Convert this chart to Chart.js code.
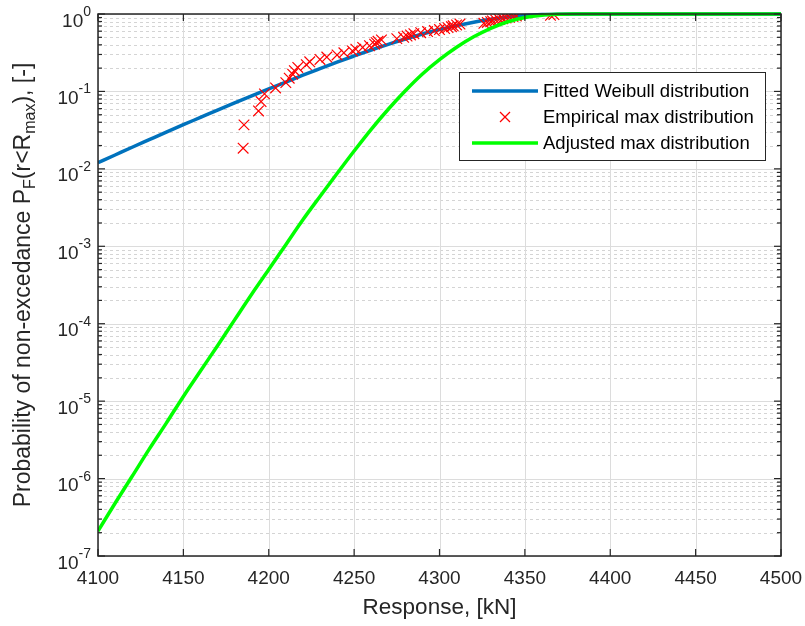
<!DOCTYPE html>
<html>
<head>
<meta charset="utf-8">
<script src="https://cdn.jsdelivr.net/npm/chart.js@4.4.1/dist/chart.umd.min.js"></script>
<style>
html, body { margin: 0; padding: 0; background: #fff; }
</style>
</head>
<body>
<canvas id="chart" width="805" height="626"></canvas>
<script>
// --- data ---
const fitX = [4100, 4110, 4120, 4130, 4140, 4150, 4160, 4170, 4180, 4190, 4200, 4210, 4220, 4230, 4240,
              4250, 4260, 4270, 4280, 4290, 4300, 4310, 4320, 4330, 4340, 4350, 4360, 4370, 4380, 4390,
              4400, 4450, 4500];
const fitP = [0.0120, 0.0151, 0.0190, 0.0238, 0.0298, 0.0372, 0.0462, 0.0574, 0.0711, 0.0879, 0.108, 0.132, 0.162, 0.197, 0.239,
              0.287, 0.343, 0.406, 0.475, 0.551, 0.630, 0.708, 0.783, 0.853, 0.912, 0.955, 0.982, 0.995, 1, 1,
              1, 1, 1];

const adjX = fitX;
const adjP = [2.1e-7, 4.8e-7, 1.07e-6, 2.4e-6, 5.2e-6, 1.15e-5, 2.45e-5, 5.2e-5, 1.12e-4, 2.4e-4, 5.0e-4, 1.05e-3, 2.2e-3, 4.4e-3, 8.7e-3,
              0.0170, 0.0324, 0.0589, 0.102, 0.168, 0.257, 0.372, 0.507, 0.653, 0.794, 0.902, 0.966, 0.991, 0.998, 0.9995,
              1, 1, 1];

const empX = [4185, 4185.5, 4194, 4195.5, 4197.5, 4204, 4210, 4212, 4214, 4215, 4217, 4222, 4224, 4230, 4234,
              4240, 4244, 4249, 4251, 4255, 4259, 4262, 4263, 4264, 4266, 4275, 4279, 4281, 4283, 4285,
              4289, 4293, 4297, 4300, 4303, 4305, 4307, 4308, 4310, 4312, 4326, 4328, 4330, 4331, 4333,
              4335, 4337, 4339, 4341, 4343, 4345, 4365, 4367];
const empP = [0.0185, 0.037, 0.056, 0.074, 0.093, 0.111, 0.130, 0.148, 0.167, 0.185, 0.204, 0.222, 0.241, 0.259, 0.278,
              0.296, 0.315, 0.333, 0.352, 0.370, 0.389, 0.407, 0.426, 0.444, 0.463, 0.481, 0.500, 0.519, 0.537, 0.556,
              0.574, 0.593, 0.611, 0.630, 0.648, 0.667, 0.685, 0.704, 0.722, 0.741, 0.759, 0.778, 0.796, 0.815, 0.833,
              0.852, 0.870, 0.889, 0.907, 0.926, 0.944, 0.963, 0.981];

const xTicks = [4100, 4150, 4200, 4250, 4300, 4350, 4400, 4450, 4500];
const yExps = [0, -1, -2, -3, -4, -5, -6, -7];
const legendLabels = ['Fitted Weibull distribution', 'Empirical max distribution', 'Adjusted max distribution'];

const FONT = "'Liberation Sans', Arial, sans-serif";
const AXIS = '#262626';
const BLUE = '#0072BD';
const RED = '#FF0000';
const GREEN = '#00FF00';

function toPoints(xs, ys) {
    return xs.map((x, i) => ({ x: x, y: ys[i] }));
}

function strokeLine(ctx, x1, y1, x2, y2) {
    ctx.beginPath();
    ctx.moveTo(x1, y1);
    ctx.lineTo(x2, y2);
    ctx.stroke();
}

function drawCross(ctx, cx, cy, h) {
    strokeLine(ctx, cx - h, cy - h, cx + h, cy + h);
    strokeLine(ctx, cx - h, cy + h, cx + h, cy - h);
}

// grid, box, inward ticks, 10^n labels, legend and y title the MATLAB way
const matlabAxes = {
    id: 'matlabAxes',
    beforeDatasetsDraw(chart) {
        const { ctx, chartArea: a, scales: { x, y } } = chart;
        ctx.save();
        ctx.lineWidth = 1;
        // minor log grid, dotted
        ctx.strokeStyle = '#d4d4d4';
        ctx.setLineDash([3, 3]);
        for (let e = -7; e < 0; e++) {
            for (let m = 2; m <= 9; m++) {
                const py = Math.round(y.getPixelForValue(m * Math.pow(10, e))) + 0.5;
                strokeLine(ctx, a.left, py, a.right, py);
            }
        }
        ctx.setLineDash([]);
        ctx.strokeStyle = '#dcdcdc';
        xTicks.forEach(v => {
            const px = Math.round(x.getPixelForValue(v)) + 0.5;
            strokeLine(ctx, px, a.top, px, a.bottom);
        });
        yExps.forEach(e => {
            const py = Math.round(y.getPixelForValue(Math.pow(10, e))) + 0.5;
            strokeLine(ctx, a.left, py, a.right, py);
        });
        ctx.restore();
    },
    afterDatasetsDraw(chart) {
        const { ctx, chartArea: a, scales: { x, y } } = chart;
        ctx.save();
        ctx.strokeStyle = AXIS;
        ctx.lineWidth = 1.5;
        ctx.strokeRect(a.left, a.top, a.right - a.left, a.bottom - a.top);

        // ticks pointing inwards
        ctx.lineWidth = 1.2;
        xTicks.forEach(v => {
            const px = x.getPixelForValue(v);
            strokeLine(ctx, px, a.bottom, px, a.bottom - 7);
            strokeLine(ctx, px, a.top, px, a.top + 7);
        });
        for (let e = -7; e <= 0; e++) {
            for (let m = 1; m <= 9; m++) {
                if (e === 0 && m > 1) break;
                const py = y.getPixelForValue(m * Math.pow(10, e));
                const len = m === 1 ? 7 : 4;
                strokeLine(ctx, a.left, py, a.left + len, py);
                strokeLine(ctx, a.right, py, a.right - len, py);
            }
        }

        // y tick labels 10^n
        ctx.fillStyle = AXIS;
        ctx.textBaseline = 'alphabetic';
        ctx.textAlign = 'left';
        yExps.forEach(e => {
            const py = y.getPixelForValue(Math.pow(10, e));
            ctx.font = '14px ' + FONT;
            const sup = String(e);
            const ws = ctx.measureText(sup).width;
            ctx.font = '19px ' + FONT;
            const wb = ctx.measureText('10').width;
            const right = a.left - 7;
            ctx.fillText('10', right - ws - wb, py + 12.5);
            ctx.font = '14px ' + FONT;
            ctx.fillText(sup, right - ws, py + 2);
        });

        // y axis title with subscripts
        const parts = [
            ['Probability of non-excedance P', false],
            ['F', true],
            ['(r<R', false],
            ['max', true],
            ['), [-]', false]
        ];
        ctx.save();
        ctx.translate(30, (a.top + a.bottom) / 2);
        ctx.rotate(-Math.PI / 2);
        let total = 0;
        parts.forEach(p => {
            ctx.font = (p[1] ? '16px ' : '23px ') + FONT;
            total += ctx.measureText(p[0]).width;
        });
        let cx = -total / 2;
        parts.forEach(p => {
            ctx.font = (p[1] ? '16px ' : '23px ') + FONT;
            ctx.fillText(p[0], cx, p[1] ? 5 : 0);
            cx += ctx.measureText(p[0]).width;
        });
        ctx.restore();

        // legend box
        const lg = { left: 459.5, top: 72.5, right: 765.5, bottom: 160.5 };
        ctx.fillStyle = '#fff';
        ctx.fillRect(lg.left, lg.top, lg.right - lg.left, lg.bottom - lg.top);
        ctx.strokeStyle = AXIS;
        ctx.lineWidth = 1;
        ctx.strokeRect(lg.left, lg.top, lg.right - lg.left, lg.bottom - lg.top);
        const rowY = [91, 117, 143];
        ctx.lineWidth = 3.5;
        ctx.strokeStyle = BLUE;
        strokeLine(ctx, 472, rowY[0], 538, rowY[0]);
        ctx.strokeStyle = GREEN;
        strokeLine(ctx, 472, rowY[2], 538, rowY[2]);
        ctx.strokeStyle = RED;
        ctx.lineWidth = 1.2;
        drawCross(ctx, 505, rowY[1], 5);
        ctx.fillStyle = '#000';
        ctx.font = '18.5px ' + FONT;
        ctx.textBaseline = 'middle';
        legendLabels.forEach((t, i) => ctx.fillText(t, 543, rowY[i] + 1));
        ctx.restore();
    }
};

const chart = new Chart(document.getElementById('chart'), {
    type: 'line',
    data: {
        datasets: [
            {
                label: legendLabels[2],
                data: toPoints(adjX, adjP),
                borderColor: GREEN,
                borderWidth: 3.5,
                pointRadius: 0,
                fill: false,
                cubicInterpolationMode: 'monotone',
                clip: { left: 0, top: 3, right: 0, bottom: 0 },
                order: 1
            },
            {
                label: legendLabels[1],
                data: toPoints(empX, empP),
                showLine: false,
                pointStyle: 'crossRot',
                pointRadius: 7.5,
                borderColor: RED,
                backgroundColor: RED,
                pointBorderWidth: 1.2,
                order: 2
            },
            {
                label: legendLabels[0],
                data: toPoints(fitX, fitP),
                borderColor: BLUE,
                borderWidth: 3.5,
                pointRadius: 0,
                fill: false,
                cubicInterpolationMode: 'monotone',
                clip: { left: 0, top: 3, right: 0, bottom: 0 },
                order: 3
            }
        ]
    },
    options: {
        responsive: false,
        animation: false,
        layout: { padding: { left: 0, right: 24, top: 14, bottom: 0 } },
        plugins: {
            legend: { display: false },
            tooltip: { enabled: false }
        },
        scales: {
            x: {
                type: 'linear',
                min: 4100,
                max: 4500,
                grid: { display: false, drawTicks: false },
                border: { display: false },
                ticks: {
                    stepSize: 50,
                    autoSkip: false,
                    maxRotation: 0,
                    padding: 11,
                    color: AXIS,
                    font: { family: FONT, size: 19 },
                    callback: v => String(v)
                },
                title: {
                    display: true,
                    text: 'Response, [kN]',
                    color: AXIS,
                    font: { family: FONT, size: 22.5 },
                    padding: { top: 0, bottom: 5 }
                },
                afterFit: s => {
                    s.height = 70;
                    s.paddingLeft = 0;
                    s.paddingRight = 0;
                }
            },
            y: {
                type: 'logarithmic',
                min: 1e-7,
                max: 1,
                grid: { display: false, drawTicks: false },
                border: { display: false },
                ticks: { display: false },
                afterFit: s => { s.width = 98; }
            }
        }
    },
    plugins: [matlabAxes]
});
</script>
</body>
</html>
